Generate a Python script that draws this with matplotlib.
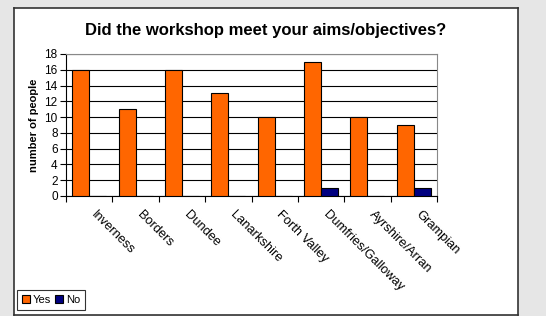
import numpy as np
import matplotlib.pyplot as plt
import matplotlib.transforms as mtransforms

regions = ['Inverness', 'Borders', 'Dundee', 'Lanarkshire', 'Forth Valley',
           'Dumfries/Galloway', 'Ayrshire/Arran', 'Grampian']
yes = [16, 11, 16, 13, 10, 17, 10, 9]
no = [0, 0, 0, 0, 0, 1, 0, 1]

W, H = 546, 316
plt.rcParams['font.family'] = ['Liberation Sans', 'DejaVu Sans']
fig = plt.figure(figsize=(W / 100, H / 100), dpi=100)
fig.patch.set_facecolor('#e6e6e6')

# white chart box
bg = fig.add_axes([14 / W, 1 - 315 / H, (518 - 14) / W, (315 - 8) / H])
bg.set_xticks([])
bg.set_yticks([])
bg.set_facecolor('white')
for s in bg.spines.values():
    s.set_color('#333333')
    s.set_linewidth(1.2)
bg.set_zorder(0)

ax = fig.add_axes([66 / W, 1 - 196 / H, (437 - 66) / W, (196 - 54) / H])
ax.set_zorder(1)
x = np.arange(len(regions))
bw = 0.366
ax.bar(x - bw / 2, yes, bw, color='#ff6600', edgecolor='black', linewidth=0.8, label='Yes', zorder=3)
ax.bar(x + bw / 2, no, bw, color='#000080', edgecolor='black', linewidth=0.8, label='No', zorder=3)

ax.set_xlim(-0.5, len(regions) - 0.5)
ax.set_ylim(0, 18)
ax.set_yticks(range(0, 19, 2))
ax.yaxis.grid(True, color='black', linewidth=0.8, zorder=0)
ax.set_axisbelow(True)
ax.set_xticks(np.arange(len(regions) + 1) - 0.5)
ax.set_xticklabels([])
ax.set_xticks(x, minor=True)
ax.set_xticklabels(regions, minor=True, rotation=-45, ha='left', va='top',
                   rotation_mode='anchor', fontsize=9.3)
ax.tick_params(axis='x', which='minor', length=0, pad=9)
ax.tick_params(axis='x', which='major', length=4, direction='out')
ax.tick_params(axis='y', labelsize=8.5, length=4, pad=2)
shift = mtransforms.ScaledTranslation(8 / 100, 0, fig.dpi_scale_trans)
for lab in ax.get_xticklabels(minor=True):
    lab.set_transform(lab.get_transform() + shift)
for s in ['top', 'right']:
    ax.spines[s].set_color('#888888')
ax.spines['left'].set_color('black')
ax.spines['bottom'].set_color('black')

ax.set_ylabel('number of people', fontsize=8, fontweight='bold', labelpad=4)
fig.text(0.5 * (14 + 518) / W, 1 - 30 / H, 'Did the workshop meet your aims/objectives?',
         ha='center', va='center', fontsize=12, fontweight='bold', zorder=5)

leg = fig.legend(loc='lower left', bbox_to_anchor=(17 / W, 1 - 310 / H), ncol=2,
                 fontsize=8, frameon=True, fancybox=False, edgecolor='black',
                 handlelength=0.7, handleheight=0.7, handletextpad=0.25,
                 columnspacing=0.4, borderpad=0.45, borderaxespad=0)
leg.get_frame().set_linewidth(0.8)
leg.set_zorder(5)

fig.savefig('out.png', dpi=100, facecolor=fig.get_facecolor())
